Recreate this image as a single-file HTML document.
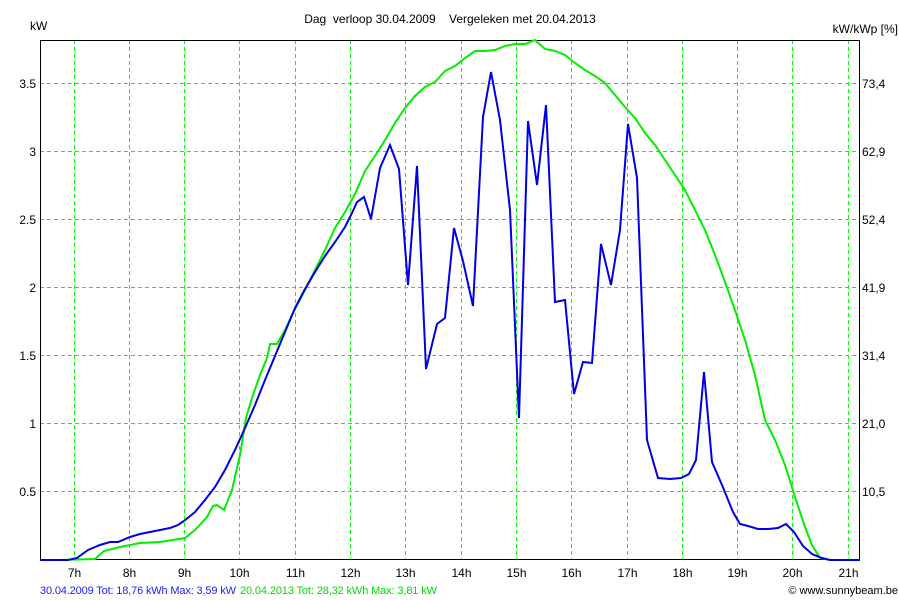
<!DOCTYPE html>
<html><head><meta charset="utf-8"><style>
html,body{margin:0;padding:0;background:#fff;}
svg{display:block;font-family:"Liberation Sans",sans-serif;}
</style></head><body>
<svg width="900" height="600" viewBox="0 0 900 600">
<rect width="900" height="600" fill="#fff"/>
<g stroke="#00ff00" stroke-width="1" stroke-dasharray="4,3" shape-rendering="crispEdges">
<line x1="74.5" y1="40" x2="74.5" y2="560"/><line x1="129.5" y1="40" x2="129.5" y2="560"/>
<line x1="184.5" y1="40" x2="184.5" y2="560"/><line x1="239.5" y1="40" x2="239.5" y2="560"/>
<line x1="295.5" y1="40" x2="295.5" y2="560"/><line x1="350.5" y1="40" x2="350.5" y2="560"/>
<line x1="405.5" y1="40" x2="405.5" y2="560"/><line x1="461.5" y1="40" x2="461.5" y2="560"/>
<line x1="516.5" y1="40" x2="516.5" y2="560"/><line x1="571.5" y1="40" x2="571.5" y2="560"/>
<line x1="627.5" y1="40" x2="627.5" y2="560"/><line x1="682.5" y1="40" x2="682.5" y2="560"/>
<line x1="737.5" y1="40" x2="737.5" y2="560"/><line x1="792.5" y1="40" x2="792.5" y2="560"/>
<line x1="848.5" y1="40" x2="848.5" y2="560"/>
<line x1="40" y1="83.5" x2="860" y2="83.5"/><line x1="40" y1="151.5" x2="860" y2="151.5"/>
<line x1="40" y1="219.5" x2="860" y2="219.5"/><line x1="40" y1="287.5" x2="860" y2="287.5"/>
<line x1="40" y1="355.5" x2="860" y2="355.5"/><line x1="40" y1="423.5" x2="860" y2="423.5"/>
<line x1="40" y1="491.5" x2="860" y2="491.5"/>
</g>
<rect x="40.5" y="40.5" width="819" height="519" fill="none" stroke="#000" stroke-width="1" shape-rendering="crispEdges"/>
<polyline fill="none" stroke="#00ee00" stroke-width="2" points="40,560 58,560 95,559 104,551 120,547 140,543 160,542 185,538 195,530 207,517 213,506 217,505 224,510 232,490 240,455 246,418 252,398 260,375 267,358 270,344 277,344 285,330 295,309 305,290 315,270 325,250 335,228 345,212 355,194 365,171 375,156 385,140 395,123 405,108 415,96 425,87 435,82 445,71 455,66 465,58 475,51 485,51 495,50 505,46 515,44 525,44 535,40 545,49 555,51 565,55 575,63 585,70 595,76 605,83 615,95 625,107 635,118 645,133 655,145 665,160 675,175 685,190 695,210 705,230 715,255 725,282 735,310 745,340 755,375 765,420 775,440 785,465 795,497 805,527 812,545 820,558 830,560 860,560"/>
<polyline fill="none" stroke="#0000e0" stroke-width="2" points="40,560 68,560 77,558 88,550 100,545 110,542 118,542 130,537 140,534 150,532 160,530 170,528 178,525 184,521 195,512 205,500 215,487 225,470 235,450 245,428 255,405 265,380 275,356 285,332 295,308 305,289 315,272 325,256 335,242 345,227 352,213 357,202 364,197 371,219 380,168 390,145 399,169 408,285 417,166 426,369 437,324 445,318 454,228 463,261 473,306 483,117 491,72 500,120 510,210 519,418 528,121 537,185 546,105 555,302 565,300 574,394 583,362 592,363 601,244 611,285 620,230 628,124 637,178 647,440 658,478 670,479 681,478 689,474 696,460 704,372 712,462 722,485 733,512 740,524 748,526 758,529 768,529 778,528 786,524 794,532 803,546 812,554 822,558 830,560 860,560"/>
<g font-size="12" fill="#000">
<text x="30" y="30">kW</text>
<text x="898" y="33" text-anchor="end">kW/kWp [%]</text>
<text x="450" y="23" text-anchor="middle" xml:space="preserve">Dag  verloop 30.04.2009    Vergeleken met 20.04.2013</text>
<g text-anchor="end">
<text x="36" y="88">3.5</text><text x="36" y="156">3</text><text x="36" y="224">2.5</text>
<text x="36" y="292">2</text><text x="36" y="360">1.5</text><text x="36" y="428">1</text><text x="36" y="496">0.5</text>
</g>
<text x="862" y="88">73,4</text><text x="862" y="156">62,9</text><text x="862" y="224">52,4</text>
<text x="862" y="292">41,9</text><text x="862" y="360">31,4</text><text x="862" y="428">21,0</text><text x="862" y="496">10,5</text>
<g text-anchor="middle">
<text x="74.5" y="577">7h</text><text x="129.5" y="577">8h</text><text x="184.5" y="577">9h</text>
<text x="239.5" y="577">10h</text><text x="295.5" y="577">11h</text><text x="350.5" y="577">12h</text>
<text x="405.5" y="577">13h</text><text x="461.5" y="577">14h</text><text x="516.5" y="577">15h</text>
<text x="571.5" y="577">16h</text><text x="627.5" y="577">17h</text><text x="682.5" y="577">18h</text>
<text x="737.5" y="577">19h</text><text x="792.5" y="577">20h</text><text x="848.5" y="577">21h</text>
</g>
</g>
<g font-size="11">
<text x="40" y="594" fill="#2020ff" textLength="196">30.04.2009 Tot: 18,76 kWh Max: 3,59 kW</text>
<text x="240" y="594" fill="#00dd00" textLength="197">20.04.2013 Tot: 28,32 kWh Max: 3,81 kW</text>
<text x="898" y="594" fill="#000" text-anchor="end">© www.sunnybeam.be</text>
</g>
</svg>
</body></html>
